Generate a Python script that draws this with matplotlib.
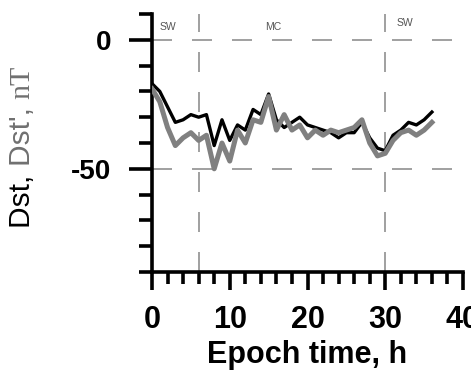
import matplotlib
matplotlib.use("Agg")
import matplotlib.pyplot as plt
from matplotlib.ticker import MultipleLocator, FixedLocator

plt.rcParams['font.family'] = ['Liberation Sans', 'DejaVu Sans']
plt.rcParams['axes.unicode_minus'] = False

# epoch time, hours
hours = list(range(0, 37))
# Dst (black) and corrected Dst' (gray), nT
dst = [-17, -20, -26, -32, -31, -29, -30, -29, -41, -31,
       -39, -33, -35, -27, -29, -21, -31, -34, -32, -30,
       -33, -34, -35, -36, -38, -36, -36, -32, -38, -42,
       -43, -37, -35, -32, -33, -31, -28]
dst_corr = [-19, -24, -34, -41, -38, -36, -39, -37, -50, -40,
            -47, -35, -40, -31, -32, -22, -35, -29, -35, -33,
            -38, -35, -37, -35, -36, -35, -34, -31, -40, -45,
            -44, -39, -36, -35, -37, -35, -32]

# boundaries between sheath (SW) and magnetic cloud (MC)
bounds = [6, 30]
hlines = [0, -50]
regions = [("SW", 1.0, 5), ("MC", 14.5, 5), ("SW", 31.5, 6.5)]

W, H = 471, 379
fig = plt.figure(figsize=(W / 100, H / 100), dpi=100)
ax = fig.add_axes([152 / W, 1 - 272 / H, (463 - 152) / W, (272 - 14) / H])

for y in hlines:
    ax.plot([0, 41], [y, y], color='#909090', lw=1.2, dashes=(12, 12), zorder=1, clip_on=False)
for x in bounds:
    ax.plot([x, x], [-90, 10], color='#909090', lw=1.2, dashes=(12, 12), zorder=1)

ax.plot(hours, dst, color='black', lw=2.4, zorder=3)
ax.plot(hours, dst_corr, color='#808080', lw=3.6, zorder=4)

for name, x, y in regions:
    ax.text(x, y, name, fontsize=7.5, color='#555555', ha='left', va='center')

ax.set_xlim(0, 40)
ax.set_ylim(-90, 10)

for s in ['top', 'right']:
    ax.spines[s].set_visible(False)
for s in ['left', 'bottom']:
    ax.spines[s].set_linewidth(2.6)

ax.xaxis.set_major_locator(MultipleLocator(10))
ax.xaxis.set_minor_locator(MultipleLocator(2))
ax.yaxis.set_major_locator(FixedLocator([-50, 0]))
ax.yaxis.set_minor_locator(MultipleLocator(10))

ax.tick_params(axis='x', which='major', length=13, width=2.6, pad=11, labelsize=22)
ax.tick_params(axis='x', which='minor', length=8.4, width=2.6)
ax.tick_params(axis='y', which='major', length=16.5, width=2.6, pad=13, labelsize=20)
ax.tick_params(axis='y', which='minor', length=9.4, width=2.6)
for lab in ax.get_xticklabels() + ax.get_yticklabels():
    lab.set_fontweight('bold')

ax.set_xlabel('Epoch time, h', fontsize=22, fontweight='bold', labelpad=3)

# multi-coloured y label built from pieces
renderer = fig.canvas.get_renderer()
xpos = 22 / W
ypos = 1 - 228 / H
pieces = [("Dst, ", 'black', 'Liberation Sans'),
          ("Dst', ", '#707070', 'Liberation Sans'),
          ("nT", '#707070', 'Liberation Serif')]
for txt, col, fam in pieces:
    t = fig.text(xpos, ypos, txt, rotation=90, color=col, fontsize=21.5,
                 family=fam, ha='center', va='bottom')
    bb = t.get_window_extent(renderer=renderer)
    ypos = bb.y1 / H

fig.savefig('out.png', dpi=100)
